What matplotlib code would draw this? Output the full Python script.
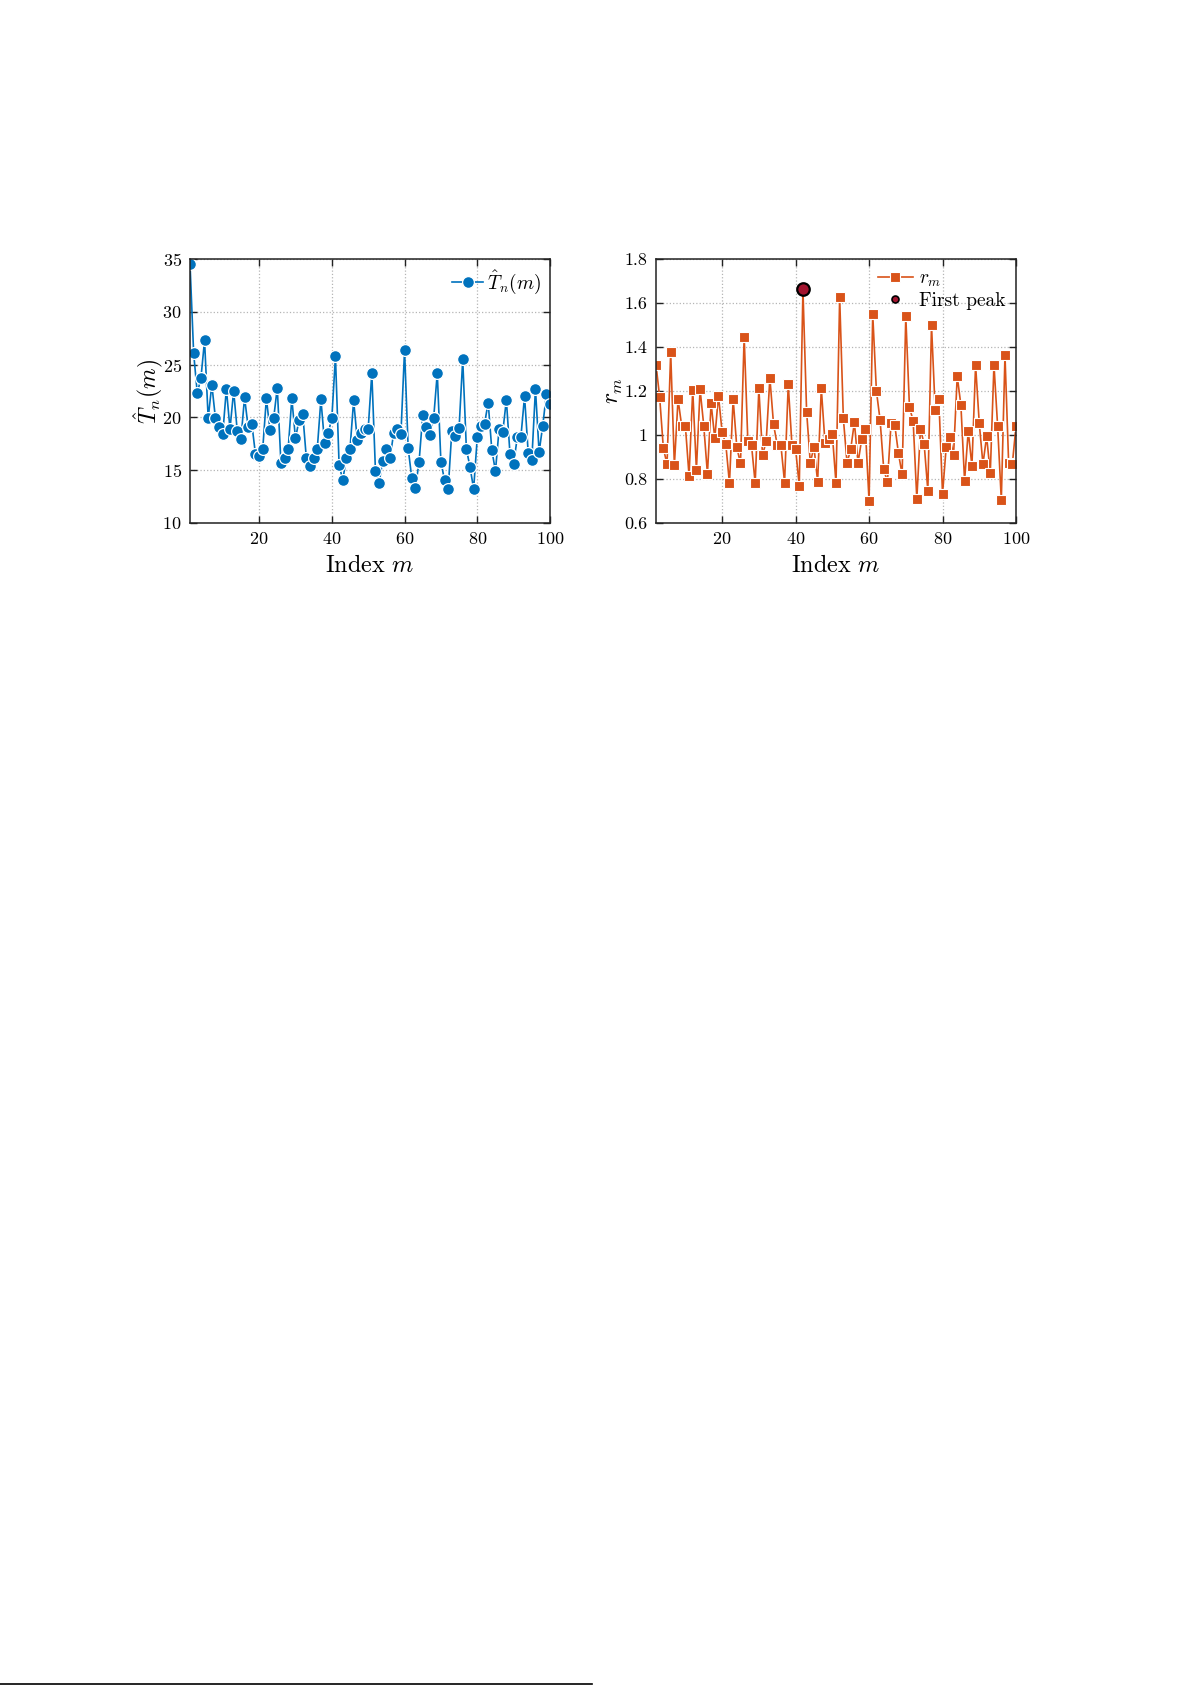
import matplotlib
matplotlib.use("Agg")
import matplotlib.pyplot as plt
from matplotlib.lines import Line2D

plt.rcParams['font.family'] = ['cmr10', 'DejaVu Serif']
plt.rcParams['mathtext.fontset'] = 'cm'
plt.rcParams['axes.formatter.use_mathtext'] = True

# ---- data ----
m_T = list(range(1, 101))
T_hat = [34.6, 26.1, 22.3, 23.7, 27.3, 19.9, 23.1, 19.9, 19.1, 18.4,
         22.7, 18.9, 22.5, 18.7, 17.9, 21.9, 19.05, 19.4, 16.5, 16.3,
         17.0, 21.8, 18.8, 19.9, 22.8, 15.7, 16.1, 17.0, 21.8, 18.0,
         19.75, 20.35, 16.1, 15.4, 16.1, 17.0, 21.7, 17.6, 18.5, 19.9,
         25.8, 15.5, 14.05, 16.1, 17.0, 21.6, 17.85, 18.5, 18.9, 18.9,
         24.2, 14.9, 13.8, 15.9, 17.0, 16.1, 18.5, 18.9, 18.4, 26.4,
         17.05, 14.2, 13.3, 15.8, 20.2, 19.1, 18.3, 19.9, 24.2, 15.75,
         14.05, 13.2, 18.7, 18.2, 19.0, 25.5, 17.0, 15.3, 13.2, 18.1,
         19.2, 19.4, 21.4, 16.9, 14.9, 18.9, 18.6, 21.65, 16.5, 15.6,
         18.1, 18.15, 22.0, 16.65, 15.95, 22.7, 16.7, 19.2, 22.2, 21.3]

m_r = list(range(2, 101))
r_m = [1.32, 1.171, 0.94, 0.866, 1.376, 0.861, 1.162, 1.04, 1.04,
       0.813, 1.205, 0.84, 1.208, 1.042, 0.822, 1.144, 0.984, 1.179, 1.013,
       0.958, 0.779, 1.164, 0.943, 0.870, 1.448, 0.972, 0.954, 0.779, 1.212,
       0.908, 0.971, 1.26, 1.048, 0.954, 0.954, 0.782, 1.23, 0.955, 0.936,
       0.768, 1.663, 1.106, 0.873, 0.945, 0.787, 1.212, 0.965, 0.981, 1.003,
       0.779, 1.627, 1.075, 0.873, 0.934, 1.057, 0.873, 0.981, 1.025, 0.699,
       1.549, 1.20, 1.068, 0.843, 0.785, 1.056, 1.045, 0.916, 0.82, 1.54,
       1.125, 1.065, 0.708, 1.027, 0.958, 0.746, 1.50, 1.113, 1.162, 0.731,
       0.945, 0.989, 0.908, 1.267, 1.136, 0.791, 1.018, 0.858, 1.318, 1.053,
       0.867, 0.993, 0.826, 1.32, 1.04, 0.703, 1.363, 0.87, 0.867, 1.04]

first_peak_m = 42
x_ticks = [20, 40, 60, 80, 100]
T_ticks = [10, 15, 20, 25, 30, 35]
r_ticks = [0.6, 0.8, 1.0, 1.2, 1.4, 1.6, 1.8]
r_tick_labels = ['0.6', '0.8', '1', '1.2', '1.4', '1.6', '1.8']

blue = '#0072BD'
orange = '#D95319'
peak_col = '#A2142F'

fig = plt.figure(figsize=(11.91, 16.85), dpi=100)
W, H = 1191, 1685


def style_axes(ax):
    ax.grid(True, linestyle=':', color='#b5b5b5', linewidth=0.9)
    ax.set_axisbelow(True)
    ax.tick_params(direction='in', top=True, right=True, length=5,
                   width=1.0, labelsize=13, pad=6, color='#222222')
    for s in ax.spines.values():
        s.set_linewidth(1.1)
        s.set_color('#222222')
    ax.set_xticks(x_ticks)
    ax.set_xlabel(r'$\mathrm{Index}\ m$', fontsize=17.5, labelpad=6)


# left
ax1 = fig.add_axes([190 / W, 1 - 522.7 / H, 360 / W, 263.4 / H])
ax1.plot(m_T, T_hat, '-o', color=blue, lw=1.2, ms=8.5,
         markerfacecolor=blue, markeredgecolor='white', markeredgewidth=0.9,
         label=r'$\hat{T}_n(m)$')
ax1.set_xlim(1, 100)
ax1.set_ylim(10, 35)
ax1.set_yticks(T_ticks)
style_axes(ax1)
ax1.set_ylabel(r'$\hat{T}_n(m)$', fontsize=17, labelpad=-2)
ax1.legend(loc='upper right', frameon=False, fontsize=14, handlelength=1.6,
           borderaxespad=0.05, handletextpad=0.2)

# right
ax2 = fig.add_axes([656 / W, 1 - 522.7 / H, 360 / W, 263.4 / H])
ax2.plot(m_r, r_m, '-s', color=orange, lw=1.2, ms=6.5,
         markerfacecolor=orange, markeredgecolor='white', markeredgewidth=0.8)
pk = m_r.index(first_peak_m)
ax2.plot([m_r[pk]], [r_m[pk]], 'o', ms=9, markerfacecolor=peak_col,
         markeredgecolor='black', markeredgewidth=1.6, zorder=5)
ax2.set_xlim(2, 100)
ax2.set_ylim(0.6, 1.8)
ax2.set_yticks(r_ticks)
ax2.set_yticklabels(r_tick_labels)
style_axes(ax2)
ax2.set_ylabel(r'$r_m$', fontsize=17, labelpad=0)
h1 = Line2D([], [], color=orange, lw=1.2, marker='s', ms=6.5,
            markerfacecolor=orange, markeredgecolor='white', markeredgewidth=0.8)
h2 = Line2D([], [], linestyle='none', marker='o', ms=5,
            markerfacecolor=peak_col, markeredgecolor='black', markeredgewidth=1.2)
ax2.legend([h1, h2], [r'$r_m$', 'First peak'], loc='upper right',
           frameon=False, fontsize=14, handlelength=1.8, borderaxespad=0.15,
           handletextpad=0.3, labelspacing=0.15)

# page footer rule
fig.add_artist(Line2D([0, 592 / W], [1.5 / H, 1.5 / H], color='black', lw=1.2))

fig.savefig('out.png', dpi=100, facecolor='white')
